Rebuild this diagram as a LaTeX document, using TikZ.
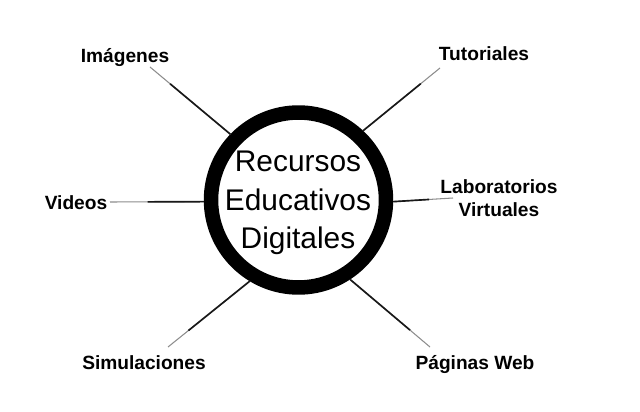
\documentclass[tikz,border=0pt]{standalone}
\usepackage{fontspec}
\setmainfont{Liberation Sans}
\usetikzlibrary{calc}
\tikzset{
  topic/.style={font=\fontsize{10.9pt}{13pt}\selectfont\bfseries,inner sep=0pt,align=center},
  spoke/.style={line width=.95pt,black!90},
  spokefade/.style={line width=.6pt,black!45}
}

\begin{document}
\begin{tikzpicture} [x=0.02cm,y=-0.02cm]
    \useasboundingbox (0,0) rectangle (640,412);

    % centre ring %
    \node (ring) at (298.5,200) [circle,draw,line width=.29cm,minimum size=3.5cm,inner sep=0pt] {};
    \node (ringtext) at (298,203) [inner sep=0pt,align=center,
      font=\fontsize{17pt}{21.9pt}\selectfont] {Recursos\\Educativos\\Digitales};

    % labels %
    \node[topic] (imagenes) at (125,58) {Imágenes};
    \node[topic] (tutoriales) at (484,54) {Tutoriales};
    \node[topic] (videos) at (76,203) {Videos};
    \node[topic] (laboratorios) at (499,198) {Laboratorios\\Virtuales};
    \node[topic] (simulaciones) at (144,363) {Simulaciones};
    \node[topic] (paginas) at (475,365) {Páginas Web};

    % free ends of the spokes %
    \coordinate (imagenesend) at (150,67);
    \coordinate (tutorialesend) at (440,68);
    \coordinate (videosend) at (110,202);
    \coordinate (laboratoriosend) at (453,198);
    \coordinate (simulacionesend) at (168,347);
    \coordinate (paginasend) at (430,347);

    % spokes, pale towards the label %
    \draw [spokefade] (ring.136) -- (imagenesend);
    \draw [spokefade] (ring.47) -- (tutorialesend);
    \draw [spokefade] (ring.181) -- (videosend);
    \draw [spokefade] (ring.-1) -- (laboratoriosend);
    \draw [spokefade] (ring.239) -- (simulacionesend);
    \draw [spokefade] (ring.303) -- (paginasend);
    \draw [spoke] (ring.136) -- ($(ring.136)!0.75!(imagenesend)$);
    \draw [spoke] (ring.47) -- ($(ring.47)!0.75!(tutorialesend)$);
    \draw [spoke] (ring.181) -- ($(ring.181)!0.6!(videosend)$);
    \draw [spoke] (ring.-1) -- ($(ring.-1)!0.6!(laboratoriosend)$);
    \draw [spoke] (ring.239) -- ($(ring.239)!0.75!(simulacionesend)$);
    \draw [spoke] (ring.303) -- ($(ring.303)!0.75!(paginasend)$);
\end{tikzpicture}
\end{document}
